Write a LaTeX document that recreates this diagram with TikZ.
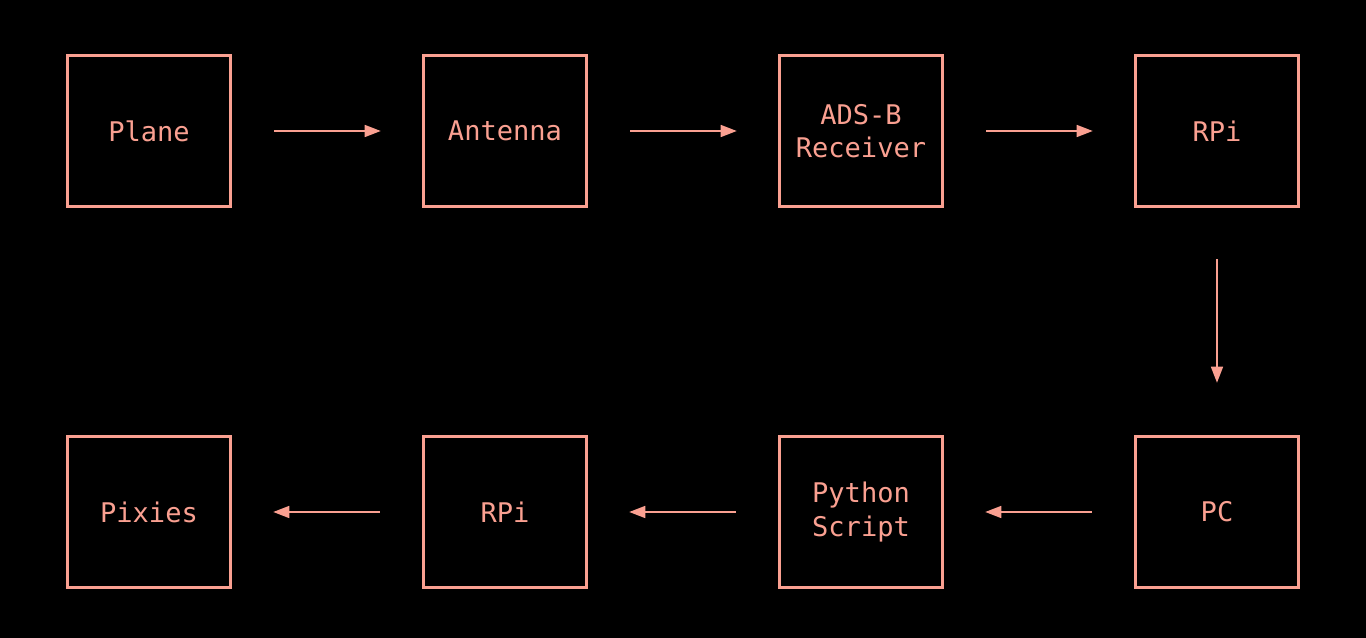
\documentclass[tikz,border=0pt]{standalone}
\usepackage{fontspec}
\setmainfont{DejaVu Sans Mono}
\usepackage{tikz}
\usetikzlibrary{arrows.meta}
\definecolor{salmon}{RGB}{250,160,145}
\tikzstyle{block}=[draw=salmon, line width=2pt, minimum width=3.26cm, minimum height=3.02cm, inner sep=0pt, align=center, text=salmon, font=\fontsize{15.4}{19}\selectfont]
\tikzstyle{flow}=[draw=salmon, line width=0.8pt, -{Triangle[length=0.32cm, width=0.24cm]}, shorten <=0.84cm, shorten >=0.82cm]

\begin{document}
\begin{tikzpicture}
        \fill[black] (0, 0) rectangle (27.32, 12.76);
        \useasboundingbox (0, 0) rectangle (27.32, 12.76);
        % top row
        \node[block] (plane) at (2.98, 10.14) {Plane};
        \node[block] (antenna) at (10.1, 10.14) {Antenna};
        \node[block] (receiver) at (17.22, 10.14) {ADS-B\\Receiver};
        \node[block] (rpitop) at (24.34, 10.14) {RPi};
        % bottom row
        \node[block] (pc) at (24.34, 2.52) {PC};
        \node[block] (script) at (17.22, 2.52) {Python\\Script};
        \node[block] (rpibottom) at (10.1, 2.52) {RPi};
        \node[block] (pixies) at (2.98, 2.52) {Pixies};
        \draw[flow] (plane.east) -- (antenna.west);
        \draw[flow] (antenna.east) -- (receiver.west);
        \draw[flow] (receiver.east) -- (rpitop.west);
        \draw[flow, shorten <=1.02cm, shorten >=1.04cm] (rpitop.south) -- (pc.north);
        \draw[flow] (pc.west) -- (script.east);
        \draw[flow] (script.west) -- (rpibottom.east);
        \draw[flow] (rpibottom.west) -- (pixies.east);
    \end{tikzpicture}
\end{document}
